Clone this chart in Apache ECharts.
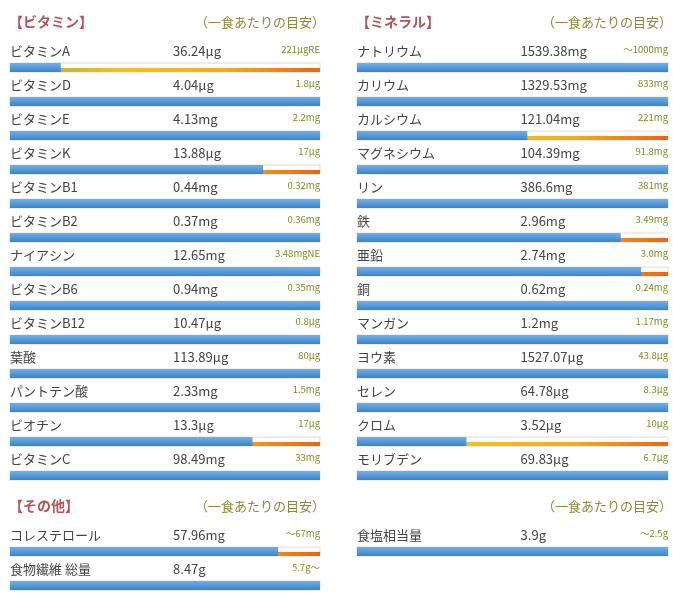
<!DOCTYPE html>
<html><head><meta charset="utf-8">
<script src="https://cdn.jsdelivr.net/npm/echarts@6/dist/echarts.min.js"></script>
<style>html,body{margin:0;padding:0;background:#fff}#c{width:673px;height:594px}</style>
</head><body><div id="c"></div>
<script>
var vitNames=['ビタミンA','ビタミンD','ビタミンE','ビタミンK','ビタミンB1','ビタミンB2','ナイアシン','ビタミンB6','ビタミンB12','葉酸','パントテン酸','ビオチン','ビタミンC'];
var vitValues=[36.24,4.04,4.13,13.88,0.44,0.37,12.65,0.94,10.47,113.89,2.33,13.3,98.49];
var vitUnits=['μg','μg','mg','μg','mg','mg','mg','mg','μg','μg','mg','μg','mg'];
var vitTargets=[221,1.8,2.2,17,0.32,0.36,3.48,0.35,0.8,80,1.5,17,33];
var vitTargetLabels=['221μgRE','1.8μg','2.2mg','17μg','0.32mg','0.36mg','3.48mgNE','0.35mg','0.8μg','80μg','1.5mg','17μg','33mg'];

var minNames=['ナトリウム','カリウム','カルシウム','マグネシウム','リン','鉄','亜鉛','銅','マンガン','ヨウ素','セレン','クロム','モリブデン'];
var minValues=[1539.38,1329.53,121.04,104.39,386.6,2.96,2.74,0.62,1.2,1527.07,64.78,3.52,69.83];
var minUnits=['mg','mg','mg','mg','mg','mg','mg','mg','mg','μg','μg','μg','μg'];
var minTargets=[1000,833,221,91.8,381,3.49,3.0,0.24,1.17,43.8,8.3,10,6.7];
var minTargetLabels=['～1000mg','833mg','221mg','91.8mg','381mg','3.49mg','3.0mg','0.24mg','1.17mg','43.8μg','8.3μg','10μg','6.7μg'];

var othNames=['コレステロール','食物繊維 総量'];
var othValues=[57.96,8.47];
var othUnits=['mg','g'];
var othTargets=[67,5.7];
var othTargetLabels=['～67mg','5.7g～'];

var saltNames=['食塩相当量'];
var saltValues=[3.9];
var saltUnits=['g'];
var saltTargets=[2.5];
var saltTargetLabels=['～2.5g'];

var FONT='"Noto Sans CJK JP","Noto Sans",sans-serif';
function rows(names,values,units,targets,tl){
  return names.map(function(n,i){
    return {value:[i,Math.min(1,values[i]/targets[i])],name:n,
      valText:String(values[i])+units[i],tText:tl[i]};
  });
}
function renderItem(params,api){
  var i=api.value(0), r=api.value(1);
  var p0=api.coord([0,i]), p1=api.coord([1,i]), pm=api.coord([0.526,i]);
  var d=params.dataIndex;
  var item=params.context.data?null:null;
  var x0=p0[0], x1=p1[0], cy=p0[1], w=x1-x0;
  var pr=api.coord([r,i])[0];
  var it=this_data[params.seriesIndex][d];
  return {type:'group',children:[
    {type:'rect',shape:{x:x0,y:cy+5,width:w,height:9},style:{fill:'#fff',stroke:'#dcdcdc',lineWidth:1}},
    {type:'rect',shape:{x:x0,y:cy+10,width:w,height:4},style:{fill:new echarts.graphic.LinearGradient(0,0,1,0,[{offset:0,color:'#a8a850'},{offset:0.35,color:'#f2c21c'},{offset:0.7,color:'#f3ad1a'},{offset:1,color:'#ee6410'}])}},
    {type:'rect',shape:{x:x0,y:cy+5,width:pr-x0,height:9},style:{fill:new echarts.graphic.LinearGradient(0,0,0,1,[{offset:0,color:'#6fb2ea'},{offset:1,color:'#3a84cc'}])}},
    {type:'text',x:x0,y:cy-7,style:{text:it.name,fill:'#444',font:'13px '+FONT,verticalAlign:'middle'}},
    {type:'text',x:pm[0],y:cy-7,style:{text:it.valText,fill:'#444',font:'13px '+FONT,verticalAlign:'middle'}},
    {type:'text',x:x1,y:cy-9,style:{text:it.tText,fill:'#7f8a20',font:'9.5px '+FONT,align:'right',verticalAlign:'middle'}}
  ]};
}
var this_data=[
  rows(vitNames,vitValues,vitUnits,vitTargets,vitTargetLabels),
  rows(minNames,minValues,minUnits,minTargets,minTargetLabels),
  rows(othNames,othValues,othUnits,othTargets,othTargetLabels),
  rows(saltNames,saltValues,saltUnits,saltTargets,saltTargetLabels)
];
var grids=[
  {left:10,width:310,top:41,height:442},
  {left:357,width:311,top:41,height:442},
  {left:10,width:310,top:525,height:68},
  {left:357,width:311,top:525,height:34}
];
var cats=[vitNames,minNames,othNames,saltNames];
var opt={animation:false,grid:grids,xAxis:[],yAxis:[],series:[],
  title:[
    {text:'【ビタミン】',left:4,top:10,textStyle:{color:'#b5525a',fontSize:14,fontWeight:'bold',fontFamily:FONT}},
    {text:'（一食あたりの目安）',left:190,top:11,textStyle:{color:'#8a8a3a',fontSize:13,fontWeight:'normal',fontFamily:FONT}},
    {text:'【ミネラル】',left:351,top:10,textStyle:{color:'#b5525a',fontSize:14,fontWeight:'bold',fontFamily:FONT}},
    {text:'（一食あたりの目安）',left:537,top:11,textStyle:{color:'#8a8a3a',fontSize:13,fontWeight:'normal',fontFamily:FONT}},
    {text:'【その他】',left:4,top:494,textStyle:{color:'#b5525a',fontSize:14,fontWeight:'bold',fontFamily:FONT}},
    {text:'（一食あたりの目安）',left:190,top:495,textStyle:{color:'#8a8a3a',fontSize:13,fontWeight:'normal',fontFamily:FONT}},
    {text:'（一食あたりの目安）',left:537,top:495,textStyle:{color:'#8a8a3a',fontSize:13,fontWeight:'normal',fontFamily:FONT}}
  ]};
for(var g=0;g<4;g++){
  opt.xAxis.push({gridIndex:g,type:'value',min:0,max:1,show:false});
  opt.yAxis.push({gridIndex:g,type:'category',data:cats[g],inverse:true,show:false});
  opt.series.push({type:'custom',xAxisIndex:g,yAxisIndex:g,renderItem:renderItem,data:this_data[g].map(function(d){return d.value;})});
}
echarts.init(document.getElementById('c')).setOption(opt);
</script></body></html>
